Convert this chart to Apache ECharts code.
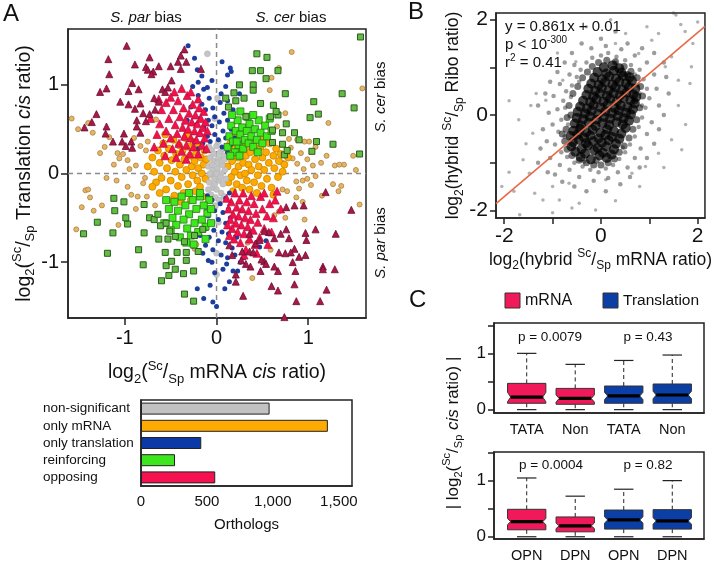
<!DOCTYPE html>
<html><head><meta charset="utf-8">
<script src="https://cdn.jsdelivr.net/npm/echarts@6/dist/echarts.min.js"></script>
<style>html,body{margin:0;padding:0;background:#fff}#c{width:714px;height:563px}</style>
</head><body><div id="c"></div><script>
// ---------- Panel A scatter data (log2 mRNA cis ratio, log2 translation cis ratio) ----------
const nonSignificant = [[-0.08,0.30],[-0.05,0.26],[0.0,0.31],[0.04,0.24],[0.08,0.20],[-0.07,0.18],[-0.03,0.14],[0.02,0.17],[0.06,0.10],[-0.09,0.08],[-0.04,0.04],[0.01,0.06],[0.05,0.0],[0.09,0.04],[-0.06,-0.02],[-0.02,-0.06],[0.03,-0.08],[0.07,-0.12],[-0.08,-0.10],[-0.04,-0.16],[0.0,-0.18],[0.05,-0.22],[-0.06,-0.24],[-0.01,-0.27],[0.03,-0.30],[0.08,-0.26],[-0.03,0.22],[0.01,0.12],[-0.05,0.10],[0.04,-0.04],[0.0,0.0],[-0.02,-0.12],[0.06,0.14],[0.07,0.28],[-0.07,0.0],[0.10,-0.06],[0.09,0.16],[-0.09,-0.18],[0.02,0.36],[-0.01,-0.36],[0.0,-1.14],[-0.02,0.62],[0.02,-0.55],[-0.1,1.35],[0.01,0.85],[0.0,-0.9]];
const onlyMrnaDense = [[-0.75,0.08],[-0.70,0.18],[-0.68,0.02],[-0.66,-0.10],[-0.64,0.26],[-0.62,0.12],[-0.60,-0.05],[-0.58,0.34],[-0.57,0.20],[-0.55,-0.18],[-0.54,0.06],[-0.52,0.28],[-0.50,-0.08],[-0.49,0.15],[-0.47,0.38],[-0.46,-0.25],[-0.45,0.02],[-0.44,0.22],[-0.42,-0.14],[-0.41,0.32],[-0.40,0.10],[-0.38,-0.04],[-0.37,0.26],[-0.36,-0.22],[-0.35,0.16],[-0.34,0.40],[-0.33,0.04],[-0.31,-0.12],[-0.30,0.30],[-0.29,0.20],[-0.28,-0.30],[-0.27,0.08],[-0.26,-0.02],[-0.25,0.36],[-0.24,0.14],[-0.23,-0.20],[-0.22,0.24],[-0.21,-0.08],[-0.20,0.06],[-0.19,0.32],[-0.18,-0.15],[-0.17,0.18],[-0.16,0.0],[-0.15,-0.26],[-0.14,0.10],[-0.13,0.26],[-0.12,-0.06],[-0.11,0.16],[-0.62,-0.22],[-0.70,-0.15],[-0.56,0.44],[-0.48,-0.30],[-0.39,-0.32],[-0.32,0.44],
 [0.12,0.08],[0.13,-0.10],[0.14,0.22],[0.15,0.34],[0.16,-0.04],[0.17,0.14],[0.18,-0.20],[0.19,0.28],[0.20,0.02],[0.21,0.40],[0.22,-0.12],[0.23,0.18],[0.24,0.08],[0.25,0.32],[0.26,-0.02],[0.27,0.24],[0.28,-0.16],[0.29,0.12],[0.30,0.36],[0.31,0.0],[0.32,0.20],[0.33,-0.08],[0.34,0.30],[0.35,0.10],[0.36,-0.18],[0.37,0.24],[0.38,0.04],[0.40,0.34],[0.41,-0.10],[0.42,0.16],[0.44,0.26],[0.45,-0.02],[0.46,0.08],[0.48,0.30],[0.49,-0.14],[0.50,0.18],[0.52,0.04],[0.54,0.24],[0.55,-0.06],[0.57,0.12],[0.58,0.34],[0.60,-0.16],[0.62,0.20],[0.63,0.06],[0.65,0.28],[0.67,-0.04],[0.68,0.14],[0.70,0.22],[0.72,0.02],[0.74,0.10],[0.52,0.40],[0.44,-0.22],[0.62,-0.24],[0.78,0.18]];
const onlyMrnaSparse = [[-1.58,0.62],[-1.51,0.50],[-1.40,0.57],[-1.35,0.46],[-1.27,0.23],[-1.22,0.30],[-1.17,0.41],[-1.08,0.23],[-1.06,0.17],[-1.02,0.22],[-0.97,0.15],[-0.88,0.09],[-0.77,0.26],[-0.83,0.31],[-0.75,0.36],[-0.66,0.61],[-0.90,0.40],[-0.95,0.05],[-1.12,0.10],
 [-1.47,-0.38],[-1.53,-0.63],[-1.43,-0.19],[-1.40,-0.18],[-1.38,-0.27],[-1.34,-0.42],[-1.25,-0.36],[-1.09,-0.08],[-1.07,-0.58],[-0.97,-0.15],[-0.93,-0.24],[-0.86,-0.26],[-0.80,-0.11],[-0.76,-0.26],[-0.67,-0.36],[-0.24,-0.85],[-0.22,-0.80],[-1.20,-0.05],[-0.88,-0.40],[-0.78,-0.05],
 [0.82,1.37],[0.68,1.19],[0.60,1.08],[0.58,0.94],[1.59,0.96],[1.22,0.57],[0.75,0.68],[0.66,0.53],[0.79,0.39],[0.88,0.38],[0.96,0.36],[1.01,0.36],[1.08,0.30],[1.14,0.12],[1.29,0.09],[1.39,0.10],[1.49,0.20],[1.52,0.04],[0.92,0.23],[0.99,0.16],[0.83,0.17],[0.72,0.12],[0.88,0.11],[1.05,0.09],[0.81,0.29],[1.34,0.10],[0.95,0.05],[1.20,0.20],
 [1.27,-0.12],[1.36,-0.14],[1.33,-0.20],[1.56,-0.35],[0.87,-0.09],[0.94,-0.08],[0.90,-0.17],[0.99,-0.06],[1.08,-0.03],[1.03,-0.13],[0.87,-0.27],[0.94,-0.32],[0.72,-0.18],[0.77,-0.20],[0.63,-0.47],[0.96,-0.52],[0.59,-0.86],[0.39,-1.18],[0.34,-0.78],[0.68,-0.43],[0.75,-0.50],[1.15,-0.25]];
const onlyTranslation = [[-0.20,0.88],[-0.14,0.95],[-0.10,0.97],[-0.05,1.05],[0.15,1.19],[0.16,1.15],[0.12,1.11],[-0.31,1.44],[-0.21,1.17],[-0.20,1.03],[-0.24,1.30],[0.10,0.98],[0.05,0.90],[-0.08,0.85],[-0.16,0.78],[-0.12,0.72],[-0.04,0.74],[0.04,0.80],[0.12,0.82],[0.18,0.72],[0.08,0.68],[-0.02,0.64],[-0.09,0.60],[-0.18,0.62],[-0.22,0.55],[-0.14,0.52],[-0.05,0.54],[0.03,0.58],[0.12,0.60],[0.16,0.50],[0.07,0.48],[-0.02,0.44],[-0.10,0.42],[-0.19,0.44],[-0.24,0.36],[-0.15,0.34],[-0.07,0.36],[0.02,0.38],[0.10,0.40],[0.15,0.32],[0.06,0.30],[-0.12,0.26],[0.12,0.24],[-0.20,0.28],[0.20,0.40],[-0.28,0.75],[0.22,0.60],[-0.26,0.98],[0.06,1.26],[-0.16,1.10],[0.25,0.90],[-0.32,0.60],
 [-0.07,-0.55],[-0.12,-0.81],[-0.15,-0.90],[-0.21,-1.30],[-0.14,-1.41],[-0.04,-1.45],[-0.07,-1.26],[-0.05,-1.0],[-0.02,-1.12],[0.23,-1.10],[0.18,-1.10],[0.09,-1.30],[0.14,-1.22],[0.11,-1.02],[0.0,-1.50],[0.47,-0.83],[0.54,-0.76],[-0.10,-0.25],[-0.05,-0.30],[0.04,-0.34],[0.10,-0.28],[0.14,-0.22],[-0.12,-0.38],[-0.02,-0.42],[0.07,-0.44],[0.13,-0.40],[-0.09,-0.48],[0.02,-0.52],[0.10,-0.56],[0.15,-0.50],[-0.11,-0.62],[-0.03,-0.64],[0.06,-0.66],[0.13,-0.68],[-0.08,-0.72],[0.02,-0.76],[0.10,-0.78],[0.17,-0.84],[-0.04,-0.86],[0.05,-0.92],[0.12,-0.95],[-0.09,-0.98],[0.20,-0.92],[0.26,-1.0],[0.07,-1.08],[-0.18,-0.70],[0.22,-0.72],[0.30,-0.95],[-0.26,-0.82]];
const opposingDense = [[-0.58,0.34],[-0.55,0.48],[-0.52,0.62],[-0.50,0.40],[-0.48,0.28],[-0.47,0.72],[-0.45,0.55],[-0.43,0.45],[-0.42,0.82],[-0.41,0.34],[-0.40,0.64],[-0.38,0.25],[-0.37,0.52],[-0.36,0.74],[-0.35,0.42],[-0.34,0.60],[-0.33,0.32],[-0.32,0.88],[-0.31,0.50],[-0.30,0.68],[-0.29,0.22],[-0.28,0.40],[-0.27,0.58],[-0.26,0.78],[-0.25,0.30],[-0.24,0.48],[-0.23,0.66],[-0.22,0.38],[-0.21,0.56],[-0.20,0.22],[-0.19,0.74],[-0.18,0.46],[-0.17,0.62],[-0.16,0.32],[-0.15,0.52],[-0.14,0.70],[-0.13,0.40],[-0.12,0.58],[-0.11,0.28],[-0.10,0.48],[-0.62,0.56],[-0.60,0.72],[-0.65,0.44],[-0.55,0.80],[-0.46,0.92],[-0.38,0.96],[-0.68,0.30],[-0.56,0.20],[-0.44,0.18],[-0.33,0.16],[-0.50,0.86],[-0.28,0.92],[-0.20,0.84],[-0.72,0.62],[-0.63,0.84],
 [0.58,-0.34],[0.55,-0.48],[0.52,-0.62],[0.50,-0.40],[0.48,-0.26],[0.47,-0.72],[0.45,-0.55],[0.43,-0.45],[0.42,-0.80],[0.41,-0.34],[0.40,-0.64],[0.38,-0.25],[0.37,-0.52],[0.36,-0.74],[0.35,-0.42],[0.34,-0.60],[0.33,-0.32],[0.32,-0.86],[0.31,-0.50],[0.30,-0.68],[0.29,-0.22],[0.28,-0.40],[0.27,-0.58],[0.26,-0.78],[0.25,-0.30],[0.24,-0.48],[0.23,-0.66],[0.22,-0.38],[0.21,-0.56],[0.20,-0.22],[0.19,-0.74],[0.18,-0.46],[0.17,-0.62],[0.16,-0.32],[0.15,-0.52],[0.14,-0.70],[0.13,-0.40],[0.12,-0.58],[0.11,-0.28],[0.62,-0.50],[0.60,-0.66],[0.64,-0.30],[0.56,-0.80],[0.66,-0.20],[0.52,-0.22],[0.44,-0.90],[0.30,-0.92],[0.70,-0.40]];
const opposingOuter = [[-0.98,1.44],[-1.18,1.29],[-0.73,1.31],[-1.17,1.12],[-0.89,1.23],[-0.77,1.20],[-0.75,1.17],[-0.69,1.15],[-0.63,1.21],[-0.71,1.12],[-0.50,1.21],[-0.42,1.26],[-0.39,1.33],[-0.35,1.40],[-0.33,1.26],[-0.39,1.18],[-1.20,0.96],[-1.27,0.92],[-0.96,0.93],[-0.85,0.95],[-0.92,1.02],[-1.05,0.81],[-0.96,0.78],[-0.89,0.73],[-0.83,0.79],[-0.73,0.67],[-0.67,0.72],[-0.68,0.85],[-0.59,0.95],[-0.49,1.05],[-0.56,0.92],[-0.63,0.81],[-1.31,0.67],[-1.36,0.58],[-1.44,0.52],[-1.20,0.53],[-1.21,0.45],[-1.13,0.36],[-1.03,0.36],[-0.99,0.31],[-0.93,0.36],[-0.87,0.53],[-0.87,0.60],[-0.80,0.68],[-0.83,0.46],[-0.92,0.29],[-0.17,1.18],[-0.77,0.59],[-0.53,0.97],[-1.01,0.45],
 [1.19,-0.21],[1.47,-0.41],[1.30,-0.68],[1.08,-0.63],[0.97,-0.67],[0.98,-0.75],[0.95,-0.36],[0.85,-0.36],[0.76,-0.38],[0.76,-0.63],[0.79,-0.73],[0.70,-0.68],[0.63,-0.73],[0.57,-0.66],[0.85,-0.85],[0.81,-0.89],[0.75,-0.90],[0.68,-0.89],[0.90,-0.94],[0.97,-0.92],[0.83,-1.00],[0.86,-1.10],[0.67,-1.10],[0.63,-1.05],[0.52,-0.99],[0.49,-0.97],[0.54,-1.02],[0.48,-1.10],[0.37,-1.05],[0.32,-1.02],[0.21,-1.14],[0.21,-1.22],[0.29,-1.38],[0.60,-1.27],[0.67,-1.32],[0.85,-1.25],[0.87,-1.44],[1.13,-1.44],[1.20,-1.31],[1.16,-1.05],[1.16,-1.08],[1.29,-1.08],[0.74,-1.62],[0.28,-0.88],[0.27,-0.98],[0.36,-0.88],[0.40,-0.89],[0.17,-0.92],[0.43,-0.79],[0.47,-0.75],[0.52,-0.65],[0.36,-0.68],[0.14,-0.81]];
const reinforcingDense = [[0.12,0.30],[0.14,0.42],[0.16,0.54],[0.18,0.36],[0.20,0.24],[0.21,0.48],[0.23,0.60],[0.24,0.32],[0.26,0.44],[0.28,0.52],[0.29,0.28],[0.31,0.38],[0.33,0.48],[0.35,0.34],[0.36,0.56],[0.38,0.42],[0.40,0.30],[0.42,0.50],[0.44,0.38],[0.46,0.60],[0.48,0.46],[0.50,0.34],[0.53,0.54],[0.55,0.42],[0.58,0.62],[0.60,0.48],[0.17,0.66],[0.26,0.70],[0.34,0.64],[0.22,0.36],[0.40,0.66],[0.15,0.20],[0.25,0.20],[0.45,0.24],
 [-0.08,-0.30],[-0.10,-0.45],[-0.12,-0.60],[-0.14,-0.36],[-0.16,-0.52],[-0.18,-0.26],[-0.20,-0.66],[-0.22,-0.40],[-0.24,-0.56],[-0.26,-0.30],[-0.28,-0.70],[-0.30,-0.46],[-0.32,-0.62],[-0.34,-0.36],[-0.36,-0.52],[-0.38,-0.26],[-0.40,-0.72],[-0.42,-0.42],[-0.44,-0.58],[-0.46,-0.32],[-0.48,-0.50],[-0.50,-0.64],[-0.52,-0.40],[-0.55,-0.30],[-0.57,-0.56],[-0.12,-0.74],[-0.06,-0.56],[-0.25,-0.80],[-0.33,-0.78],[-0.18,-0.22],[-0.30,-0.22],[-0.06,-0.40]];
const reinforcingOuter = [[1.57,1.54],[0.44,1.35],[0.55,1.31],[0.39,1.16],[0.48,1.16],[0.67,1.16],[0.54,1.07],[0.25,1.00],[0.40,1.00],[0.40,0.94],[0.75,0.90],[1.37,0.90],[1.06,0.81],[1.50,0.74],[0.62,0.77],[1.02,0.63],[1.11,0.67],[1.27,0.33],[1.09,0.36],[1.04,0.25],[1.56,0.22],[0.85,0.46],[0.76,0.56],[0.67,0.66],[0.59,0.64],[0.65,0.70],[0.32,0.64],[0.48,0.79],[0.21,0.82],[0.30,0.85],[0.10,0.85],[0.13,0.75],[0.19,0.91],[0.72,0.46],[0.61,0.49],[0.61,0.35],[0.72,0.33],[0.74,0.21],[0.90,0.38],[0.77,0.26],
 [-1.45,-0.68],[-1.30,-0.55],[-1.19,-0.90],[-1.13,-0.67],[-1.11,-0.42],[-1.12,-0.28],[-1.01,-0.32],[-0.97,-0.57],[-0.99,-0.50],[-0.79,-0.35],[-0.79,-0.67],[-0.85,-0.86],[-0.80,-1.03],[-0.73,-0.50],[-0.68,-0.52],[-0.64,-0.46],[-0.63,-0.74],[-0.56,-0.89],[-0.53,-0.74],[-0.60,-1.21],[-0.55,-1.04],[-0.52,-1.15],[-0.49,-0.99],[-0.45,-1.08],[-0.45,-0.71],[-0.43,-0.89],[-0.36,-1.13],[-0.25,-1.10],[-0.35,-1.36],[-0.25,-1.44],[-0.33,-0.98],[-0.33,-0.89],[-0.35,-0.77],[-0.61,-0.59],[-0.55,-0.56],[-0.51,-0.65],[-0.20,-0.88],[-0.24,-0.70],[-0.15,-0.63]];

// ---------- Panel A bar data ----------
const barCategories = ['non-significant','only mRNA','only translation','reinforcing','opposing'];
const barValues = [975, 1417, 457, 258, 563];
const barColors = ['#c2c2c2','#ffaa00','#0b3aa6','#3ee61e','#f5104f'];

// ---------- Panel B data (hybrid mRNA ratio, hybrid Ribo ratio) ----------
const fitSlope = 0.861, fitIntercept = 0.01;
const hybridCore = [[-0.42,-0.88],[-0.21,-0.93],[-0.03,-0.85],[0.12,-0.9],[-0.53,-0.77],[-0.33,-0.81],[-0.14,-0.74],[0.04,-0.79],[0.22,-0.83],[-0.61,-0.66],[-0.4,-0.71],[-0.27,-0.64],[-0.07,-0.69],[0.11,-0.66],[0.27,-0.72],[-0.58,-0.57],[-0.46,-0.52],[-0.31,-0.59],[-0.16,-0.55],[0.02,-0.58],[0.16,-0.53],[0.31,-0.6],[-0.63,-0.44],[-0.49,-0.41],[-0.35,-0.47],[-0.22,-0.43],[-0.05,-0.49],[0.09,-0.42],[0.23,-0.46],[0.38,-0.5],[-0.57,-0.33],[-0.43,-0.29],[-0.3,-0.36],[-0.17,-0.31],[-0.01,-0.37],[0.13,-0.3],[0.27,-0.34],[0.42,-0.39],[0.51,-0.27],[-0.54,-0.18],[-0.41,-0.22],[-0.25,-0.16],[-0.11,-0.23],[0.03,-0.17],[0.17,-0.21],[0.32,-0.15],[0.45,-0.2],[0.58,-0.12],[-0.5,-0.06],[-0.37,-0.09],[-0.23,-0.03],[-0.09,-0.1],[0.06,-0.04],[0.19,-0.08],[0.35,-0.02],[0.47,-0.07],[0.62,0.01],[-0.48,0.07],[-0.33,0.03],[-0.19,0.09],[-0.06,0.02],[0.09,0.08],[0.23,0.04],[0.37,0.1],[0.52,0.05],[0.66,0.12],[-0.43,0.18],[-0.29,0.14],[-0.15,0.21],[-0.01,0.16],[0.14,0.22],[0.28,0.15],[0.41,0.2],[0.55,0.17],[0.7,0.24],[-0.37,0.3],[-0.22,0.27],[-0.09,0.33],[0.05,0.28],[0.19,0.34],[0.33,0.29],[0.47,0.35],[0.61,0.31],[0.73,0.38],[-0.3,0.42],[-0.16,0.39],[-0.02,0.45],[0.12,0.4],[0.26,0.46],[0.39,0.41],[0.53,0.47],[0.67,0.43],[-0.26,0.55],[-0.12,0.51],[0.02,0.57],[0.16,0.52],[0.3,0.58],[0.44,0.53],[0.58,0.59],[0.71,0.55],[-0.2,0.66],[-0.05,0.63],[0.09,0.69],[0.24,0.64],[0.38,0.7],[0.52,0.66],[0.64,0.72],[-0.14,0.78],[0.02,0.75],[0.17,0.81],[0.31,0.76],[0.46,0.82],[0.59,0.79],[-0.07,0.9],[0.11,0.87],[0.27,0.93],[0.42,0.89],[0.06,1.0],[0.24,1.04],[0.38,0.98]];
const hybridInner = [[-0.75,-0.55],[-0.72,-0.3],[-0.7,-0.05],[-0.66,0.2],[-0.58,0.45],[-0.48,0.6],[-0.38,0.78],[-0.28,0.9],[-0.18,1.02],[-0.05,1.1],[0.12,1.15],[0.3,1.12],[0.48,1.02],[0.62,0.92],[0.75,0.78],[0.82,0.6],[0.86,0.4],[0.8,0.15],[0.74,-0.1],[0.66,-0.3],[0.58,-0.48],[0.48,-0.65],[0.38,-0.78],[0.28,-0.92],[0.15,-1.0],[0.0,-1.05],[-0.15,-1.05],[-0.3,-1.0],[-0.45,-0.95],[-0.6,-0.85],[-0.7,-0.72],[-0.8,-0.4],[-0.62,0.0],[0.7,0.3],[0.55,0.85],[-0.1,-0.95]];
const hybridMid = [[-0.95,-0.62],[-0.88,-0.35],[-0.82,-0.1],[-0.9,0.12],[-0.78,0.3],[-0.72,0.5],[-0.6,0.62],[-0.5,0.8],[-0.42,0.95],[-0.3,1.1],[-0.18,1.2],[0.0,1.25],[0.15,1.3],[0.32,1.22],[0.5,1.15],[0.62,1.05],[0.8,0.95],[0.88,0.75],[0.95,0.55],[1.0,0.35],[0.92,0.15],[0.85,-0.05],[0.78,-0.25],[0.7,-0.45],[0.6,-0.62],[0.5,-0.78],[0.38,-0.92],[0.25,-1.05],[0.1,-1.12],[-0.05,-1.2],[-0.22,-1.15],[-0.38,-1.08],[-0.55,-1.0],[-0.7,-0.88],[-0.82,-0.78],[-1.05,-0.9],[-1.12,-0.55],[-1.0,-0.2],[-1.08,0.05],[-0.98,0.4],[-0.85,0.65],[-0.65,0.85],[-0.55,1.05],[-0.2,1.4],[0.1,1.45],[0.42,1.38],[0.7,1.25],[0.95,1.1],[1.1,0.85],[1.15,0.55],[1.2,0.2],[1.05,-0.15],[0.95,-0.4],[0.82,-0.7],[0.7,-0.9],[0.55,-1.1],[0.35,-1.2],[0.15,-1.32],[-0.15,-1.38],[-0.45,-1.3],[-0.65,-1.15],[-0.85,-1.05],[-0.95,-1.25],[-0.75,-0.45],[-0.68,-0.2],[-0.74,0.15],[0.8,0.45],[0.85,0.2],[0.76,0.62],[0.7,0.85],[-0.35,-0.98],[0.45,-0.68],[-0.45,0.7],[0.3,1.1],[-0.62,0.38],[-1.3,-1.0],[-1.25,-0.7],[-1.2,-0.3],[-1.3,0.2],[-1.15,0.45],[-1.05,0.7],[-0.9,0.9],[-0.75,1.1],[-0.6,1.3],[-0.4,1.5],[0.0,1.6],[0.3,1.75],[0.55,1.5],[0.85,1.4],[1.1,1.3],[1.3,1.1],[1.35,0.8],[1.4,0.45],[1.3,0.0],[1.2,-0.3],[1.1,-0.6],[0.95,-0.9],[0.8,-1.1],[0.6,-1.3],[0.4,-1.45],[0.1,-1.6],[-0.3,-1.6],[-0.55,-1.5],[-0.8,-1.4],[-1.1,-1.2]];
const hybridOutliers = [[1.5,2.14],[1.55,2.1],[1.74,1.75],[1.87,1.01],[1.84,0.66],[1.6,0.73],[1.46,1.22],[1.19,1.71],[1.05,1.57],[1.33,1.01],[0.78,1.29],[0.51,1.71],[0.3,1.5],[-0.52,1.12],[-0.79,0.73],[-1.14,0.31],[-1.34,0.45],[-1.41,-0.38],[-1.61,-0.94],[-1.48,-1.22],[-1.37,-1.64],[-1.2,-1.78],[-1.68,-2.09],[-1.0,-1.5],[-0.86,-1.78],[-0.66,-1.43],[-0.45,-1.85],[-0.11,-1.99],[0.1,-1.36],[0.64,-1.22],[0.92,-1.08],[1.19,-0.8],[1.46,-0.52],[1.67,-0.73],[1.9,1.5],[2.0,1.95],[1.65,1.9],[0.95,1.85],[-1.8,-1.6],[-1.9,-1.2],[-1.55,-0.6],[-1.7,-0.1],[-1.45,0.2],[-0.9,1.3],[-0.3,1.85],[0.2,2.0],[1.6,0.2],[1.75,-0.2],[1.3,-1.1],[0.8,-1.5],[0.3,-1.8],[-0.6,-1.95],[-1.0,-2.05],[-1.9,0.3],[-2.05,-1.5]];

// ---------- Panel C box statistics [pos, min, Q1, median, Q3, max, notchLow, notchHigh, group] ----------
const boxTopLabels = ['TATA','Non','TATA','Non'];
const boxTopStats = [[1,0,0.114,0.225,0.47,1.007,0.14,0.31,0],[2,0,0.096,0.20,0.38,0.81,0.135,0.265,0],[3,0,0.114,0.245,0.423,0.88,0.18,0.31,1],[4,0,0.114,0.262,0.459,0.977,0.195,0.33,1]];
const boxBottomLabels = ['OPN','DPN','OPN','DPN'];
const boxBottomStats = [[1,0,0.124,0.27,0.489,1.047,0.215,0.325,0],[2,0,0.088,0.194,0.353,0.723,0.145,0.245,0],[3,0,0.136,0.30,0.476,0.847,0.245,0.355,1],[4,0,0.136,0.282,0.483,1.0,0.225,0.34,1]];
const boxGroupNames = ['mRNA','Translation'];
const boxGroupColors = ['#f2195a','#0b3fa6'];
const pTop = ['p = 0.0079','p = 0.43'];
const pBottom = ['p = 0.0004','p = 0.82'];

// ---------- drawing ----------
const FONT = '"Liberation Sans", Arial, Helvetica, sans-serif';
const INK = '#111';
function rich(fs){
  const s = Math.round(fs*0.66);
  const base = {fontFamily:FONT, color:INK, fill:INK};
  return {
    n:Object.assign({fontSize:fs, lineHeight:Math.round(fs*1.35)}, base),
    i:Object.assign({fontSize:fs, fontStyle:'italic', lineHeight:Math.round(fs*1.35)}, base),
    sub:Object.assign({fontSize:s, verticalAlign:'bottom', lineHeight:s}, base),
    sup:Object.assign({fontSize:s, verticalAlign:'top', lineHeight:s}, base)
  };
}
function T(x,y,text,fs,o){
  o = o || {};
  return {type:'text', x:x, y:y, rotation:o.rot||0, silent:true, z:50,
    style:{text:text, fontSize:fs, fontFamily:FONT, fill:INK, fontStyle:o.italic?'italic':'normal',
      align:o.align||'left', verticalAlign:o.va||'middle', textAlign:o.align||'left', textVerticalAlign:o.va||'middle',
      rich:o.rich}};
}
const axLine = {show:true, onZero:false, lineStyle:{color:'#222', width:1.5}};
const tickStyle = {color:'#222', width:1.5};
const lbl = (fs, margin, vals, fmt) => ({customValues:vals, fontSize:fs, color:INK, fontFamily:FONT, margin:margin, formatter:fmt});
const gridBox = {show:true, borderColor:'#222', borderWidth:1.5, containLabel:false};

function sc(data, symbol, size, fill, stroke, bw, z){
  return {type:'scatter', xAxisIndex:0, yAxisIndex:0, data:data, symbol:symbol, symbolSize:size,
    itemStyle:{color:fill, borderColor:stroke, borderWidth:bw, opacity:1}, silent:true, z:z, animation:false};
}
function renderBox(params, api){
  const x=api.value(0), mn=api.value(1), q1=api.value(2), md=api.value(3), q3=api.value(4), mx=api.value(5), nl=api.value(6), nh=api.value(7), g=api.value(8);
  const hw=0.395, ind=0.065, cap=0.2;
  const P=(a,b)=>api.coord([a,b]);
  const dash={stroke:'#222', lineWidth:1, lineDash:[4,3]};
  const solid={stroke:'#222', lineWidth:1.2};
  const ln=(a,b,st)=>({type:'line', shape:{x1:a[0],y1:a[1],x2:b[0],y2:b[1]}, style:st});
  const poly=[P(x-hw,q3),P(x+hw,q3),P(x+hw,nh),P(x+hw-ind,md),P(x+hw,nl),P(x+hw,q1),P(x-hw,q1),P(x-hw,nl),P(x-hw+ind,md),P(x-hw,nh)];
  return {type:'group', children:[
    ln(P(x,q3),P(x,mx),dash), ln(P(x,q1),P(x,mn),dash),
    ln(P(x-cap,mx),P(x+cap,mx),solid), ln(P(x-cap,mn),P(x+cap,mn),solid),
    {type:'polygon', shape:{points:poly}, style:{fill:boxGroupColors[g], stroke:'#333', lineWidth:1}},
    ln(P(x-hw+ind,md),P(x+hw-ind,md),{stroke:'#000', lineWidth:3.2})
  ]};
}
const chart = echarts.init(document.getElementById('c'), null, {renderer:'canvas'});
const nameA_x = '{n|log}{sub|2}{n|(}{sup|Sc}{n|/}{sub|Sp}{n| mRNA }{i|cis}{n| ratio)}';
const nameA_y = '{n|log}{sub|2}{n|(}{sup|Sc}{n|/}{sub|Sp}{n| Translation }{i|cis}{n| ratio)}';
const nameB_x = '{n|log}{sub|2}{n|(hybrid }{sup|Sc}{n|/}{sub|Sp}{n| mRNA ratio)}';
const nameB_y = '{n|log}{sub|2}{n|(hybrid }{sup|Sc}{n|/}{sub|Sp}{n| Ribo ratio)}';
const nameC_y = '{n|| log}{sub|2}{n|(}{sup|Sc}{n|/}{sub|Sp}{n| }{i|cis}{n| ratio) |}';
const fmtThousands = v => Number(v).toLocaleString('en-US');
const cxA = v => boxTopLabels[Math.round(v)-1] || '';
const cxB = v => boxBottomLabels[Math.round(v)-1] || '';

const option = {
  animation:false,
  backgroundColor:'#fff',
  grid:[
    Object.assign({left:68, top:29, width:298, height:289}, gridBox),
    Object.assign({left:141, top:400, width:211, height:86}, gridBox),
    Object.assign({left:496, top:13, width:211, height:205}, gridBox),
    Object.assign({left:494, top:323, width:210, height:90}, gridBox),
    Object.assign({left:494, top:452, width:210, height:88}, gridBox)
  ],
  xAxis:[
    {gridIndex:0, type:'value', min:-1.62, max:1.63, axisLine:axLine, splitLine:{show:false},
      axisTick:{customValues:[-1,0,1], length:7, lineStyle:tickStyle}, axisLabel:lbl(20,10,[-1,0,1]),
      name:nameA_x, nameLocation:'middle', nameGap:42, nameTextStyle:{rich:rich(19.5)}},
    {gridIndex:1, type:'value', min:0, max:1600, axisLine:axLine, splitLine:{show:false},
      axisTick:{customValues:[0,250,500,750,1000,1250,1500], length:5, lineStyle:tickStyle},
      axisLabel:lbl(15,8,[0,500,1000,1500],fmtThousands),
      name:'Orthologs', nameLocation:'middle', nameGap:31, nameTextStyle:{fontSize:15, color:INK, fontFamily:FONT}},
    {gridIndex:2, type:'value', min:-2.17, max:2.15, axisLine:axLine, splitLine:{show:false},
      axisTick:{customValues:[-2,-1,0,1,2], length:6, lineStyle:tickStyle}, axisLabel:lbl(21,8,[-2,0,2]),
      name:nameB_x, nameLocation:'middle', nameGap:26, nameTextStyle:{rich:rich(17.5)}},
    {gridIndex:3, type:'value', min:0.326, max:4.654, axisLine:axLine, splitLine:{show:false},
      axisTick:{show:false}, axisLabel:lbl(14.5,9,[1,2,3,4],cxA)},
    {gridIndex:4, type:'value', min:0.326, max:4.654, axisLine:axLine, splitLine:{show:false},
      axisTick:{show:false}, axisLabel:lbl(14.5,9,[1,2,3,4],cxB)}
  ],
  yAxis:[
    {gridIndex:0, type:'value', min:-1.63, max:1.63, axisLine:axLine, splitLine:{show:false},
      axisTick:{customValues:[-1,0,1], length:7, lineStyle:tickStyle}, axisLabel:lbl(20,9,[-1,0,1]),
      name:nameA_y, nameLocation:'middle', nameGap:30, nameTextStyle:{rich:rich(19.5)}},
    {gridIndex:1, type:'category', data:barCategories, inverse:true, axisLine:axLine,
      axisTick:{alignWithLabel:true, length:4, lineStyle:tickStyle},
      axisLabel:{interval:0, align:'left', margin:98, fontSize:13.5, color:INK, fontFamily:FONT}},
    {gridIndex:2, type:'value', min:-2.16, max:2.14, axisLine:axLine, splitLine:{show:false},
      axisTick:{customValues:[-2,-1,0,1,2], length:6, lineStyle:tickStyle}, axisLabel:lbl(21,8,[-2,0,2]),
      name:nameB_y, nameLocation:'middle', nameGap:26, nameTextStyle:{rich:rich(17.5)}},
    {gridIndex:3, type:'value', min:-0.06, max:1.55, axisLine:axLine, splitLine:{show:false},
      axisTick:{customValues:[0,0.5,1,1.5], length:6, lineStyle:tickStyle}, axisLabel:lbl(17,8,[0,1])},
    {gridIndex:4, type:'value', min:-0.04, max:1.51, axisLine:axLine, splitLine:{show:false},
      axisTick:{customValues:[0,0.5,1,1.5], length:6, lineStyle:tickStyle}, axisLabel:lbl(17,8,[0,1])}
  ],
  series:[
    {type:'line', xAxisIndex:0, yAxisIndex:0, data:[[0,-1.63],[0,1.63]], symbol:'none', silent:true, z:1,
      lineStyle:{color:'#8a8a8a', width:1.5, type:[5,4]}},
    {type:'line', xAxisIndex:0, yAxisIndex:0, data:[[-1.62,0],[1.63,0]], symbol:'none', silent:true, z:1,
      lineStyle:{color:'#8a8a8a', width:1.5, type:[5,4]}},
    sc(onlyMrnaSparse,'circle',5,'#e6b565','#a88040',0.8,2),
    sc(onlyMrnaDense,'circle',7,'#ffaa00','#c98600',0.8,3),
    sc(nonSignificant,'circle',6,'#c4c4c4','#b0b0b0',0.5,4),
    sc(onlyTranslation,'circle',5,'#1d3d9c','#1d3d9c',0,5),
    sc(opposingDense,'triangle',8,'#f5104a','#b5103c',0.7,6),
    sc(reinforcingDense,'rect',7,'#3ee81a','#2a7a1a',0.8,7),
    sc(opposingOuter,'triangle',7,'#a8184a','#6e0e2e',0.8,8),
    sc(reinforcingOuter,'rect',6,'#63bd45','#2d5a1e',1,9),
    {type:'bar', xAxisIndex:1, yAxisIndex:1, barWidth:12, silent:true,
      data:barValues.map((v,i)=>({value:v, itemStyle:{color:barColors[i], borderColor:'#222', borderWidth:1}}))},
    {type:'scatter', xAxisIndex:2, yAxisIndex:2, data:hybridOutliers, symbolSize:3.5, silent:true,
      itemStyle:{color:'rgba(60,60,60,0.5)'}},
    {type:'scatter', xAxisIndex:2, yAxisIndex:2, data:hybridMid, symbolSize:4.5, silent:true,
      itemStyle:{color:'rgba(30,30,30,0.55)'}},
    {type:'scatter', xAxisIndex:2, yAxisIndex:2, data:hybridInner, symbolSize:7, silent:true,
      itemStyle:{color:'rgba(10,10,10,0.7)'}},
    {type:'scatter', xAxisIndex:2, yAxisIndex:2, data:hybridCore, symbolSize:10, silent:true,
      itemStyle:{color:'rgba(0,0,0,0.9)'}},
    {type:'line', xAxisIndex:2, yAxisIndex:2, symbol:'none', silent:true, z:5,
      data:[[-2.17, fitSlope*-2.17+fitIntercept],[2.15, fitSlope*2.15+fitIntercept]],
      lineStyle:{color:'#e86a45', width:1.6}},
    {type:'custom', xAxisIndex:3, yAxisIndex:3, data:boxTopStats, renderItem:renderBox, silent:true, encode:{x:0, y:[1,5]}},
    {type:'custom', xAxisIndex:4, yAxisIndex:4, data:boxBottomStats, renderItem:renderBox, silent:true, encode:{x:0, y:[1,5]}}
  ],
  graphic:[
    T(3,14,'A',24), T(408,12,'B',24), T(409,300,'C',24),
    T(146,18,'{i|S. par}{n| bias}',15,{align:'center', rich:rich(15)}),
    T(291,18,'{i|S. cer}{n| bias}',15,{align:'center', rich:rich(15)}),
    T(381,97,'{i|S. cer}{n| bias}',15,{align:'center', rot:Math.PI/2, rich:rich(15)}),
    T(381,243,'{i|S. par}{n| bias}',15,{align:'center', rot:Math.PI/2, rich:rich(15)}),
    T(505,27,'y = '+fitSlope+'x + '+fitIntercept.toFixed(2),15),
    T(505,45,'{n|p < 10}{sup|-300}',15,{rich:rich(15)}),
    T(505,63,'{n|r}{sup|2}{n| = 0.41}',15,{rich:rich(15)}),
    {type:'rect', shape:{x:505,y:293,width:15,height:15}, style:{fill:boxGroupColors[0], stroke:'#333', lineWidth:1}},
    T(525,301,boxGroupNames[0],16),
    {type:'rect', shape:{x:603,y:293,width:15,height:15}, style:{fill:boxGroupColors[1], stroke:'#333', lineWidth:1}},
    T(623,301,boxGroupNames[1],15.5),
    T(550,337,pTop[0],13.5,{align:'center'}), T(648,337,pTop[1],13.5,{align:'center'}),
    T(551,465,pBottom[0],13.5,{align:'center'}), T(648,465,pBottom[1],13.5,{align:'center'}),
    T(453,433,nameC_y,17,{align:'center', rot:Math.PI/2, rich:rich(17)})
  ]
};
chart.setOption(option);
</script></body></html>
